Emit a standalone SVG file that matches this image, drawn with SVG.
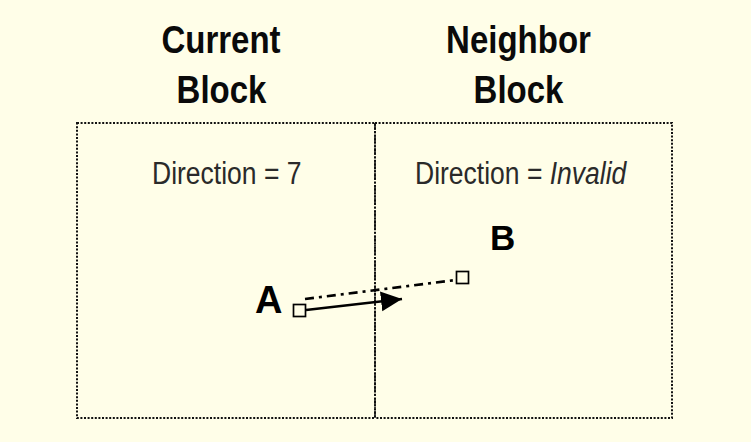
<svg xmlns="http://www.w3.org/2000/svg" width="751" height="442" viewBox="0 0 751 442">
  <defs>
    <style>
      .title { font-family: "Liberation Sans", Arial, sans-serif; font-weight: bold; font-size: 33px; fill: #0a0a0a; text-anchor: middle; }
      .dir { font-family: "Liberation Sans", Arial, sans-serif; font-size: 26.5px; fill: #2a2a2a; }
      .pt { font-family: "Liberation Sans", Arial, sans-serif; font-weight: bold; fill: #000; }
      .border { fill: none; stroke: #111; stroke-width: 2; stroke-dasharray: 2 1.6; }
      .divider { fill: none; stroke: #111; stroke-width: 1.6; stroke-dasharray: 7 2 1.5 2; }
      .node { fill: #FFFEE8; stroke: #000; stroke-width: 1.7; }
      .mv { fill: none; stroke: #000; stroke-width: 2.6; }
      .cand { fill: none; stroke: #000; stroke-width: 2.6; stroke-dasharray: 9 5 3 5; }
    </style>
    <marker id="arrow" markerUnits="userSpaceOnUse" markerWidth="24" markerHeight="22" refX="21" refY="10" orient="auto">
      <path d="M0,0 L21,10 L0,20 Z" fill="#000"/>
    </marker>
  </defs>
  <rect x="0" y="0" width="751" height="442" fill="#FFFEE8"/>

  <g id="titles">
    <text class="title" transform="translate(221,53) scale(1,1.15)">Current</text>
    <text class="title" transform="translate(221.5,103) scale(1,1.15)">Block</text>
    <text class="title" transform="translate(518.5,53) scale(1,1.15)">Neighbor</text>
    <text class="title" transform="translate(518.5,103) scale(1,1.15)">Block</text>
  </g>

  <g id="current-block">
    <rect class="border" x="77" y="123" width="298" height="295"/>
    <text class="dir" transform="translate(152,184) scale(1,1.2)">Direction = 7</text>
  </g>

  <g id="neighbor-block">
    <path class="border" d="M375,123 H672 V418 H375"/>
    <text class="dir" transform="translate(415,184) scale(1,1.2)">Direction = <tspan font-style="italic">Invalid</tspan></text>
  </g>

  <g id="divider">
    <line class="divider" x1="375" y1="123" x2="375" y2="418"/>
  </g>

  <g id="connectors">
    <line class="cand" x1="305" y1="299" x2="456" y2="280"/>
    <line class="mv" x1="306" y1="310" x2="402" y2="299" marker-end="url(#arrow)"/>
  </g>

  <g id="point-A">
    <rect class="node" x="293.5" y="304.5" width="12" height="12"/>
    <text class="pt" x="255" y="313" font-size="38">A</text>
  </g>

  <g id="point-B">
    <rect class="node" x="456.5" y="271.5" width="12" height="12"/>
    <text class="pt" x="490" y="250" font-size="35">B</text>
  </g>
</svg>
